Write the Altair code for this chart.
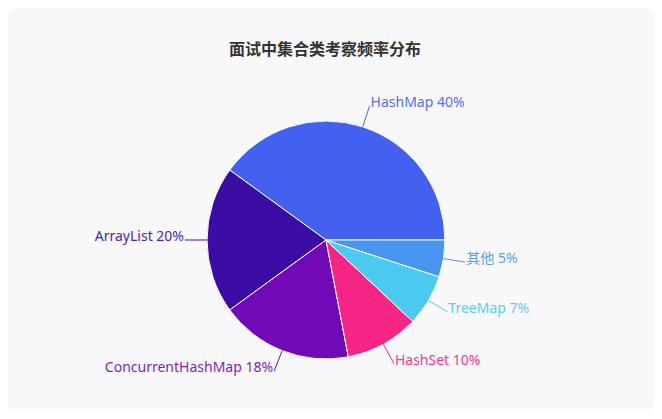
import math
import altair as alt
import pandas as pd

# ---- data ----
categories = ["HashMap", "ArrayList", "ConcurrentHashMap", "HashSet", "TreeMap", "其他"]
values = [40, 20, 18, 10, 7, 5]
colors = ["#4361ee", "#3a0ca3", "#7209b7", "#f72585", "#4cc9f0", "#4895ef"]
title_text = "面试中集合类考察频率分布"

# ---- layout ----
W, H = 646, 403
CX, CY = 318, 232
R = 119
R_OUT = 141
FONT = "Noto Sans, Noto Sans CJK SC, sans-serif"

total = sum(values)
rows = []
cum = 0
for i, (c, v) in enumerate(zip(categories, values)):
    mid = (cum + v / 2) / total * 2 * math.pi  # counterclockwise from east
    cum += v
    co, si = math.cos(mid), math.sin(mid)
    rows.append(dict(idx=i, cat=c, val=v, label=f"{c} {v}%",
                     x1=R * co, y1=R * si, x2=R_OUT * co, y2=R_OUT * si,
                     side="right" if co >= 0 else "left"))
df = pd.DataFrame(rows)

xs = alt.Scale(domain=[-CX, W - CX], nice=False, zero=False)
ys = alt.Scale(domain=[-(H - CY), CY], nice=False, zero=False)
cs = alt.Scale(domain=categories, range=colors)

base = alt.Chart(df)

card = alt.Chart(pd.DataFrame({"k": [0]})).mark_rect(
    color="#f8f8fa", cornerRadius=8
).encode(x=alt.value(0), x2=alt.value(W), y=alt.value(0), y2=alt.value(H))

pie = base.mark_arc(outerRadius=R, stroke="white", strokeWidth=1).encode(
    theta=alt.Theta("val:Q", stack=True,
                    scale=alt.Scale(domain=[0, total], range=[2.5 * math.pi, 0.5 * math.pi])),
    color=alt.Color("cat:N", scale=cs, legend=None),
    order=alt.Order("idx:Q"),
    x=alt.value(CX),
    y=alt.value(CY),
)

lines = base.mark_rule(strokeWidth=1).encode(
    x=alt.X("x1:Q", scale=xs, axis=None),
    y=alt.Y("y1:Q", scale=ys, axis=None),
    x2="x2:Q",
    y2="y2:Q",
    color=alt.Color("cat:N", scale=cs, legend=None),
)

def labels(side, align, dx):
    return base.transform_filter(alt.datum.side == side).mark_text(
        align=align, baseline="middle", dx=dx, dy=-3, fontSize=14, font=FONT, opacity=0.9
    ).encode(
        x=alt.X("x2:Q", scale=xs, axis=None),
        y=alt.Y("y2:Q", scale=ys, axis=None),
        text="label:N",
        color=alt.Color("cat:N", scale=cs, legend=None),
    )

title = alt.Chart(pd.DataFrame({"t": [title_text]})).mark_text(
    fontSize=16, fontWeight="bold", color="#333333", font=FONT, baseline="middle"
).encode(text="t:N", x=alt.value(317), y=alt.value(42))

chart = alt.layer(card, pie, lines, labels("right", "left", 1), labels("left", "right", -1), title).properties(
    width=W, height=H, padding=0, background="white"
).configure_view(strokeOpacity=0)

chart.save("out.html", embed_options={"renderer": "svg", "actions": False})
